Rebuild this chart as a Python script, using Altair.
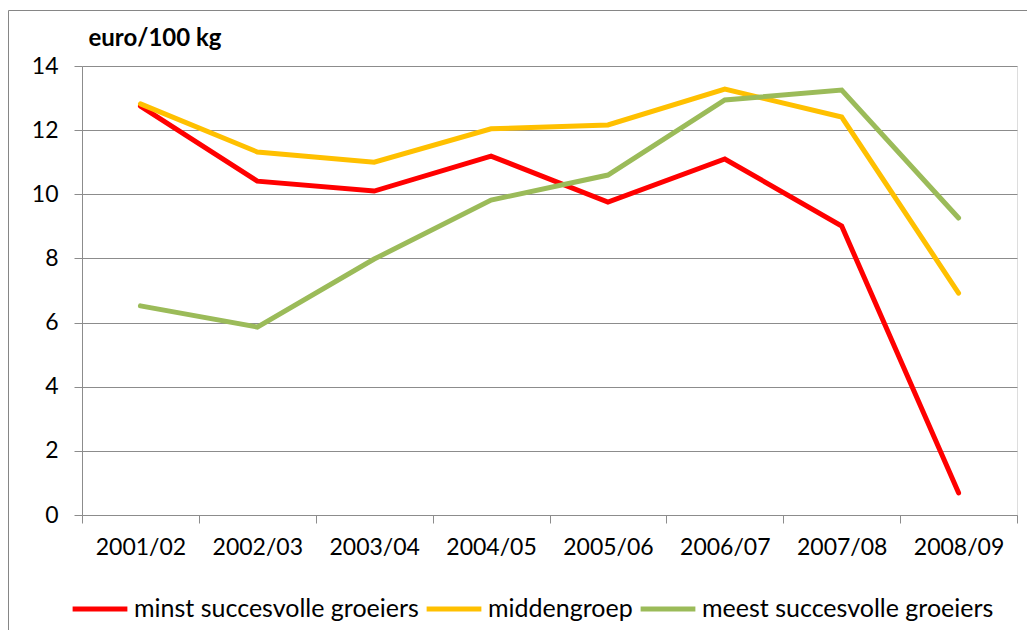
import altair as alt
import pandas as pd

seasons = ["2001/02", "2002/03", "2003/04", "2004/05", "2005/06", "2006/07", "2007/08", "2008/09"]
series_names = ["minst succesvolle groeiers", "middengroep", "meest succesvolle groeiers"]
minst = [12.75, 10.41, 10.10, 11.19, 9.76, 11.10, 9.01, 0.69]
midden = [12.82, 11.32, 11.00, 12.04, 12.16, 13.28, 12.41, 6.92]
meest = [6.52, 5.86, 7.98, 9.82, 10.60, 12.94, 13.25, 9.26]
colors = ["#FF0000", "#FFC000", "#9BBB59"]
y_ticks = [0, 2, 4, 6, 8, 10, 12, 14]

rows = []
for name, vals in zip(series_names, [minst, midden, meest]):
    for s, v in zip(seasons, vals):
        rows.append({"season": s, "value": v, "series": name})
df = pd.DataFrame(rows)

FONT = "Lato"
GRID = "#8C8C8C"

x_enc = alt.X("season:N", sort=seasons, title=None,
              scale=alt.Scale(paddingInner=0, paddingOuter=0),
              axis=alt.Axis(labelAngle=0, tickBand="extent", tickSize=8, labelPadding=13,
                            domainColor=GRID, tickColor=GRID, labelFontSize=23,
                            labelFont=FONT, labelColor="#000000", grid=False))
y_enc = alt.Y("value:Q", scale=alt.Scale(domain=[0, 14], nice=False),
              axis=alt.Axis(values=y_ticks, tickSize=8, labelPadding=16, grid=True,
                            gridColor=GRID, domainColor=GRID, tickColor=GRID,
                            labelFontSize=23, labelFont=FONT, labelColor="#000000",
                            title="euro/100 kg", titleAngle=0, titleX=6, titleY=-21,
                            titleAlign="left", titleBaseline="alphabetic",
                            titleFont=FONT, titleFontSize=24, titleFontWeight="bold",
                            titleColor="#000000"))
color_enc = alt.Color("series:N", sort=series_names,
                      scale=alt.Scale(domain=series_names, range=colors),
                      legend=alt.Legend(title=None, orient="none", direction="horizontal",
                                        legendX=-12, legendY=513, symbolType="stroke",
                                        symbolSize=3000, symbolStrokeWidth=5,
                                        labelFont=FONT, labelFontSize=25, labelColor="#000000",
                                        labelLimit=600, labelOffset=4, columnPadding=-3,
                                        symbolOffset=0))

layers = []
for name in series_names:
    layers.append(
        alt.Chart(df).transform_filter(alt.datum.series == name)
        .mark_line(strokeWidth=5, strokeCap="round", strokeJoin="miter")
        .encode(x=x_enc, y=y_enc, color=color_enc)
    )

border = alt.Chart(pd.DataFrame({"a": [0]})).mark_rule(color="#868686", strokeWidth=1)
top_border = border.encode(x=alt.value(-73.5), x2=alt.value(960), y=alt.value(-55.5))
left_border = border.encode(x=alt.value(-73.5), y=alt.value(-55.5), y2=alt.value(600))

chart = alt.layer(top_border, left_border, *layers).properties(
    width=935, height=449,
    autosize=alt.AutoSizeParams(type="none"),
    padding={"left": 74, "top": 58, "right": 10, "bottom": 115},
).configure_view(stroke=None).configure(background="#FFFFFF")

chart.save("out.html", embed_options={"renderer": "svg", "actions": False})
